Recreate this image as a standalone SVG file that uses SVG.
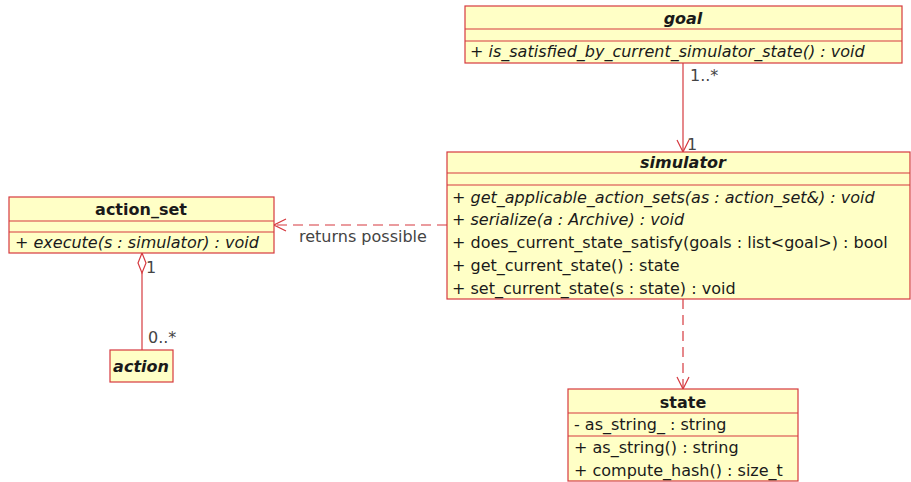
<svg xmlns="http://www.w3.org/2000/svg" width="911" height="482" viewBox="0 0 911 482">
  <style>
    .box { fill: #ffffc6; stroke: #d6393f; stroke-width: 1.2; }
    .sep { stroke: #d6393f; stroke-width: 1.2; }
    text { font-family: "DejaVu Sans", "Liberation Sans", sans-serif; font-size: 16px; fill: #1a1a1a; }
    .title { font-weight: bold; text-anchor: middle; }
    .it { font-style: italic; }
    .lbl { fill: #444; }
    .edge { stroke: #d6393f; stroke-width: 1.2; fill: none; }
    .dash { stroke-dasharray: 10 6; }
  </style>
  <defs>
    <marker id="open" viewBox="0 0 14 14" refX="13" refY="7" markerWidth="14" markerHeight="14" markerUnits="userSpaceOnUse" orient="auto">
      <path d="M1 1 L13 7 L1 13" fill="none" stroke="#d6393f" stroke-width="1.2"/>
    </marker>
    <marker id="diamond" viewBox="0 0 24 12" refX="1" refY="6" markerWidth="24" markerHeight="12" markerUnits="userSpaceOnUse" orient="auto">
      <path d="M1 6 L11 2 L21 6 L11 10 Z" fill="#ffffff" stroke="#d6393f" stroke-width="1.2"/>
    </marker>
  </defs>

  <!-- connectors -->
  <g id="connectors">
    <line class="edge" x1="683" y1="63" x2="683" y2="152" marker-end="url(#open)"/>
    <text class="lbl" x="690" y="81">1..*</text>
    <text class="lbl" x="687" y="150">1</text>

    <line class="edge dash" x1="447" y1="225" x2="274" y2="225" marker-end="url(#open)"/>
    <text class="lbl" x="299" y="242">returns possible</text>

    <line class="edge" x1="142" y1="253" x2="142" y2="350" marker-start="url(#diamond)"/>
    <text class="lbl" x="146" y="273">1</text>
    <text class="lbl" x="148" y="343">0..*</text>

    <line class="edge dash" x1="683" y1="299" x2="683" y2="389" marker-end="url(#open)"/>
  </g>

  <!-- goal -->
  <g id="goal">
    <rect class="box" x="465" y="6" width="437" height="57"/>
    <line class="sep" x1="465" y1="29" x2="902" y2="29"/>
    <line class="sep" x1="465" y1="41" x2="902" y2="41"/>
    <text class="title it" x="683" y="24">goal</text>
    <text class="it" x="470" y="57">+ is_satisfied_by_current_simulator_state() : void</text>
  </g>

  <!-- simulator -->
  <g id="simulator">
    <rect class="box" x="447" y="152" width="463" height="147"/>
    <line class="sep" x1="447" y1="173" x2="910" y2="173"/>
    <line class="sep" x1="447" y1="185" x2="910" y2="185"/>
    <text class="title it" x="683" y="168">simulator</text>
    <text class="it" x="452" y="203">+ get_applicable_action_sets(as : action_set&amp;) : void</text>
    <text class="it" x="452" y="225">+ serialize(a : Archive) : void</text>
    <text x="452" y="248">+ does_current_state_satisfy(goals : list&lt;goal&gt;) : bool</text>
    <text x="452" y="271">+ get_current_state() : state</text>
    <text x="452" y="294">+ set_current_state(s : state) : void</text>
  </g>

  <!-- action_set -->
  <g id="action_set">
    <rect class="box" x="9" y="197" width="265" height="56"/>
    <line class="sep" x1="9" y1="221" x2="274" y2="221"/>
    <line class="sep" x1="9" y1="232" x2="274" y2="232"/>
    <text class="title" x="141" y="215">action_set</text>
    <text class="it" x="15" y="248">+ execute(s : simulator) : void</text>
  </g>

  <!-- action -->
  <g id="action">
    <rect class="box" x="110" y="350" width="63" height="32"/>
    <text class="title it" x="141" y="372">action</text>
  </g>

  <!-- state -->
  <g id="state">
    <rect class="box" x="568" y="389" width="230" height="92"/>
    <line class="sep" x1="568" y1="413" x2="798" y2="413"/>
    <line class="sep" x1="568" y1="436" x2="798" y2="436"/>
    <text class="title" x="683" y="408">state</text>
    <text x="574" y="430">- as_string_ : string</text>
    <text x="574" y="453">+ as_string() : string</text>
    <text x="574" y="476">+ compute_hash() : size_t</text>
  </g>
</svg>
